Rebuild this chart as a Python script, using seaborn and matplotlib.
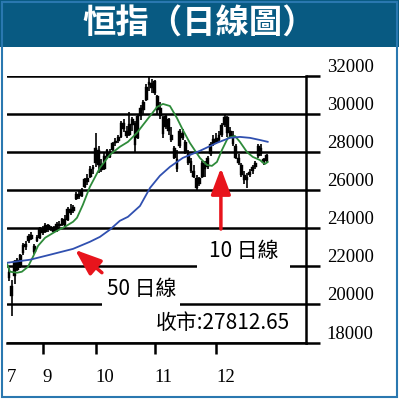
import matplotlib
matplotlib.use("Agg")
import matplotlib.pyplot as plt
import seaborn as sns
import numpy as np
import pandas as pd
from matplotlib.patches import Rectangle

# Hang Seng daily candles, 16 Aug - 31 Dec
opens = [
    21700, 20950, 21500, 22300, 22000, 22700, 23000, 23300, 23650, 23050,
    23300, 23500, 24000, 23800, 24150, 23900, 24050, 23850, 24200, 24150,
    24450, 24400, 25000, 24900, 25500, 25800, 25700, 26150, 26600, 26700,
    27100, 27400, 28100, 27350, 27100, 27800, 28000, 28100, 28450, 28550,
    28800, 29500, 29100, 28900, 29400, 29500, 28700, 29900, 30200, 30700,
    31500, 31600, 31700, 30900, 30300, 29800, 29300, 29700, 28900, 28200,
    27600, 28300, 29000, 28500, 27900, 27500, 27000, 26600, 26300, 26700,
    27300, 27200, 27900, 28400, 28700, 28600, 28900, 29400, 29800, 29100,
    28900, 28300, 27700, 27300, 26800, 26500, 26800, 27000, 27200, 27800,
    28200, 27600, 27500]
highs = [
    21900, 21300, 22350, 22450, 22650, 23200, 23300, 23700, 23800, 23150,
    23650, 24050, 24100, 24250, 24200, 24100, 24100, 24300, 24350, 24550,
    24700, 25100, 25250, 25200, 25900, 25950, 26100, 26650, 26850, 27250,
    27300, 29000, 28300, 27600, 27950, 28150, 28150, 28500, 28700, 28900,
    29600, 29700, 29350, 30100, 29800, 29600, 30000, 30450, 30700, 31550,
    31960, 31800, 31750, 31000, 30600, 29900, 30000, 29750, 29300, 28300,
    28100, 29200, 29200, 28600, 28100, 27700, 27300, 26800, 26700, 27500,
    27500, 27800, 28500, 28900, 29000, 29100, 29500, 30000, 29900, 29300,
    29100, 28400, 27900, 27400, 27000, 26900, 27100, 27300, 27500, 28400,
    28400, 27700, 27900]
lows = [
    21200, 19390, 21050, 21750, 21900, 22600, 22850, 23200, 23350, 22650,
    23250, 23450, 23650, 23750, 23800, 23850, 23750, 23800, 24000, 24100,
    23950, 24350, 24700, 24800, 25450, 25550, 25650, 26100, 26250, 26650,
    26850, 27200, 26900, 26950, 27050, 27600, 27700, 28050, 28300, 28450,
    28700, 29050, 28700, 28850, 29100, 28000, 28650, 29650, 30000, 30650,
    31200, 31100, 31000, 30000, 29700, 28700, 29200, 28900, 28500, 27600,
    26950, 28200, 28600, 27900, 27300, 26900, 26600, 25950, 26200, 26600,
    26700, 27100, 27800, 28300, 28400, 28500, 28800, 29300, 28800, 28700,
    28300, 27600, 27300, 26700, 26300, 26100, 26700, 26850, 27100, 27700,
    27800, 27300, 27400]
closes = [
    21400, 20450, 22250, 21800, 22600, 23100, 23150, 23600, 23450, 22750,
    23550, 23980, 23750, 24150, 23900, 24050, 23800, 24200, 24100, 24450,
    24100, 25000, 24800, 25100, 25800, 25650, 26000, 26550, 26400, 27100,
    27140, 28200, 27300, 27050, 27800, 28100, 27750, 28450, 28550, 28750,
    29500, 29200, 28850, 29450, 29700, 28350, 29900, 30300, 30600, 31400,
    31640, 31350, 31100, 30200, 29900, 28950, 29900, 29100, 28600, 27700,
    27100, 29100, 28700, 28000, 27400, 27000, 26700, 26100, 26600, 27400,
    27100, 27700, 28400, 28650, 28500, 28900, 29400, 29800, 29000, 28800,
    28400, 27700, 27400, 26800, 26500, 26700, 26900, 27200, 27400, 28300,
    27900, 27400, 27812.65]

# moving averages (trading-day index, level)
ma10_idx = [-0.7, 0.4, 2.9, 4.6, 6.8, 8.6, 10.4, 12.9, 16.4, 20.0, 22.9, 24.3,
            26.4, 28.9, 32.5, 36.0, 39.6, 42.5, 45.7, 47.9, 50.4, 52.9, 55.0,
            57.5, 60.0, 62.1, 64.6, 68.2, 70.7, 72.5, 74.3, 76.1, 78.2, 80.7,
            82.5, 85.0, 87.1, 89.6, 91.4, 92.5]
ma10_val = [22130, 21710, 21660, 21710, 21970, 22500, 23070, 23490, 23800,
            24070, 24330, 24540, 25220, 26160, 27160, 27840, 28260, 28520,
            28990, 29410, 29880, 30350, 30510, 30400, 29770, 29150, 28470,
            27680, 27310, 27260, 27470, 28100, 28730, 28830, 28520, 27990,
            27730, 27570, 27360, 27470]
ma50_idx = [-0.7, 7.5, 14.6, 22.9, 28.9, 32.5, 36.0, 39.6, 42.5, 46.8, 50.4,
            53.9, 57.5, 62.1, 68.2, 74.3, 78.9, 82.5, 86.1, 89.6, 92.5]
ma50_val = [22180, 22340, 22600, 22910, 23280, 23540, 23910, 24380, 24590,
            25160, 26110, 26740, 27210, 27680, 28050, 28470, 28730, 28780,
            28730, 28620, 28520]

# first trading day of each month
month_idx = [12, 31, 52, 74]
month_labels = ['9', '10', '11', '12']
first_label = '7'
y_ticks = [18000, 20000, 22000, 24000, 26000, 28000, 30000, 32000]

RED = '#e8141c'
CJK = ['Noto Sans CJK TC', 'DejaVu Sans']


def main():
    sns.set_theme(style="white")
    plt.rcParams['font.family'] = CJK

    df = pd.DataFrame({'open': opens, 'high': highs, 'low': lows, 'close': closes})
    df['idx'] = np.arange(len(df))

    fig = plt.figure(figsize=(3.99, 4.0), dpi=100)
    ax = fig.add_axes([7 / 399, 57.5 / 400, 299 / 399, 267 / 400])

    # title band + frame
    fig.patches.append(Rectangle((0, 1 - 47 / 400), 1, 47 / 400, transform=fig.transFigure,
                                 facecolor='#085a82', edgecolor='none', zorder=0))
    fig.patches.append(Rectangle((2 / 399, 3 / 400), 395 / 399, 395 / 400, transform=fig.transFigure,
                                 facecolor='none', edgecolor='#2a78b0', lw=1.5, zorder=5))
    fig.text(0.5, 1 - 23 / 400, '恒指（日線圖）', color='white', fontsize=24,
             fontweight='bold', ha='center', va='center', family=CJK)

    # candles
    ax.vlines(df['idx'], df['low'], df['high'], color='black', lw=1.2, zorder=3)
    body_lo = df[['open', 'close']].min(axis=1)
    body_h = (df['close'] - df['open']).abs().clip(lower=120)
    ax.bar(df['idx'], body_h, bottom=body_lo, width=1.0, color='black',
           edgecolor='black', lw=0.3, zorder=3)

    sns.lineplot(x=ma10_idx, y=ma10_val, color='#2e8b3a', lw=1.3, ax=ax, zorder=4)
    sns.lineplot(x=ma50_idx, y=ma50_val, color='#3050b0', lw=1.3, ax=ax, zorder=4)

    ax.set_xlim(-0.7, 106.1)
    ax.set_ylim(18000, 32000)
    ax.set_yticks(y_ticks)
    ax.set_yticklabels([str(v) for v in y_ticks])
    ax.grid(axis='y', color='black', lw=1.8)
    ax.grid(axis='x', visible=False)
    ax.set_axisbelow(True)

    for side in ['left', 'top']:
        ax.spines[side].set_visible(False)
    for side in ['right', 'bottom']:
        ax.spines[side].set_color('black')
        ax.spines[side].set_linewidth(1.8)

    ax.yaxis.tick_right()
    ax.tick_params(axis='y', which='major', direction='out', length=10, width=1.8,
                   color='black', right=True, left=False, labelright=True, labelleft=False,
                   pad=5, labelsize=13.5, labelcolor='black', labelfontfamily='Liberation Serif')
    ax.set_xticks(month_idx)
    ax.set_xticklabels(month_labels)
    ax.set_xticks([-0.7], minor=True)
    ax.set_xticklabels([first_label], minor=True)
    ax.tick_params(axis='x', which='major', direction='out', length=8, width=1.8,
                   color='black', bottom=True, pad=11, labelsize=13.5, labelcolor='black',
                   labelfontfamily='Liberation Serif')
    ax.tick_params(axis='x', which='minor', length=0, bottom=True, pad=19, labelsize=13.5,
                   labelcolor='black', labelfontfamily='Liberation Serif')
    for lab in ax.get_xticklabels() + ax.get_xticklabels(minor=True):
        lab.set_ha('left')
    for lab in ax.get_yticklabels():
        lab.set_va('bottom')
    ax.set_xlabel('')
    ax.set_ylabel('')

    # white patches behind the labels break the grid lines
    ax.add_patch(Rectangle((67.1, 21700), 33.3, 1900, facecolor='white',
                           edgecolor='none', zorder=2.5))
    ax.add_patch(Rectangle((33.2, 19720), 27.9, 1830, facecolor='white',
                           edgecolor='none', zorder=2.5))

    # annotations
    arrow = dict(arrowstyle='-|>,head_length=0.8,head_width=0.3', color=RED, lw=2.5,
                 mutation_scale=20, shrinkA=0, shrinkB=0)
    ax.annotate('', xy=(75.7, 27150), xytext=(75.7, 23950), arrowprops=arrow, zorder=6)
    ax.annotate('', xy=(23.6, 22860), xytext=(33.2, 21660), arrowprops=arrow, zorder=6)
    ax.text(84.0, 22800, '10 日線', fontsize=15, ha='center', va='center', color='black',
            zorder=7, family=CJK)
    ax.text(47.5, 20800, '50 日線', fontsize=15, ha='center', va='center', color='black',
            zorder=7, family=CJK)
    ax.text(76.5, 19030, f'收市:{closes[-1]:.2f}', fontsize=15, ha='center', va='center',
            color='black', zorder=7, family=CJK)

    fig.savefig('out.png', dpi=100, facecolor='white')
    plt.close(fig)


if __name__ == '__main__':
    main()
